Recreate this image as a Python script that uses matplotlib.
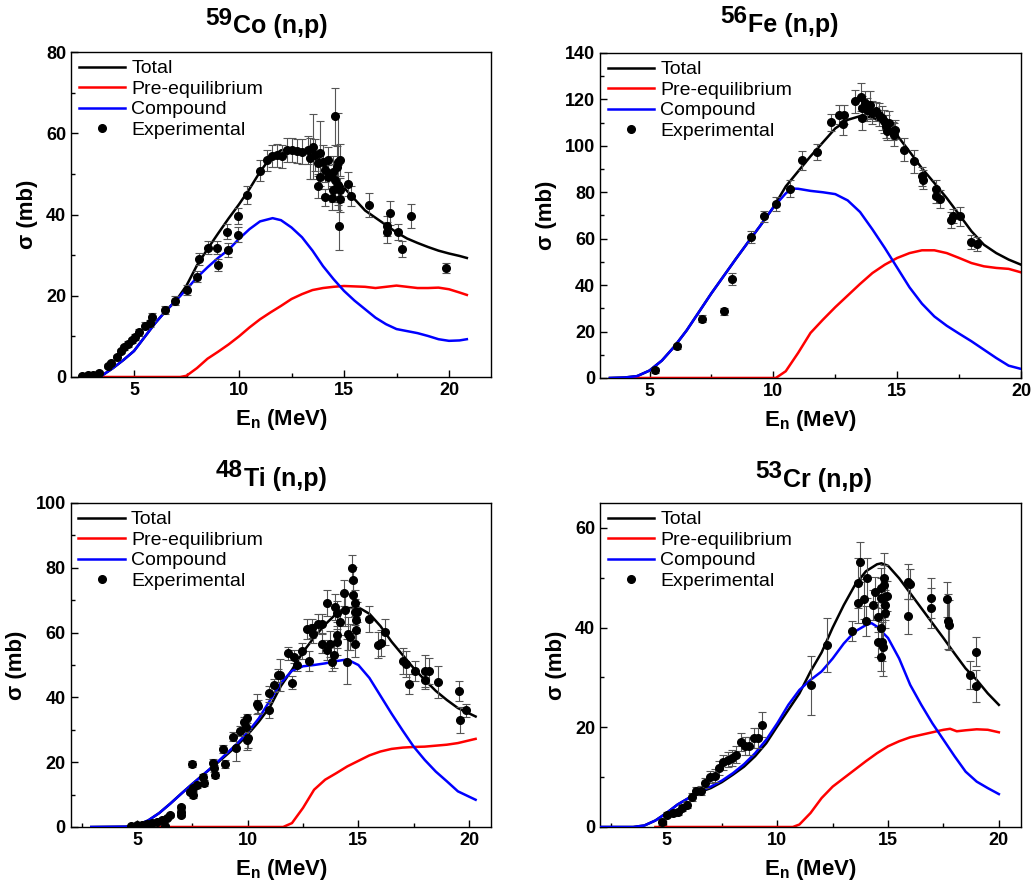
import matplotlib
matplotlib.use('Agg')
import matplotlib.pyplot as plt
from matplotlib.ticker import MultipleLocator

plt.rcParams['font.family'] = ['Liberation Sans', 'DejaVu Sans']
plt.rcParams['font.weight'] = 'bold'
plt.rcParams['axes.labelweight'] = 'bold'
plt.rcParams['axes.titleweight'] = 'bold'
plt.rcParams['mathtext.fontset'] = 'custom'
plt.rcParams['mathtext.rm'] = 'Liberation Sans:bold'
plt.rcParams['mathtext.bf'] = 'Liberation Sans:bold'

# ---------------- 59Co (n,p) ----------------
co_tot_e = [3.46, 4.0, 4.5, 5.0, 5.5, 6.0, 6.5, 7.0, 7.5, 8.0, 8.5, 9.0, 9.5, 10.0, 10.5, 11.0, 11.5, 12.0,
            12.5, 13.0, 13.5, 14.0, 14.5, 15.0, 15.5, 16.0, 16.5, 17.0, 17.5, 18.0, 18.5, 19.0, 19.5, 20.0,
            20.5, 20.85]
co_tot_s = [0.3, 2.2, 4.2, 6.4, 9.8, 13.2, 16.2, 18.8, 22.5, 27.5, 31.5, 35.3, 39.0, 42.5, 46.3, 50.5, 54.0, 55.8,
            56.0, 55.8, 55.2, 52.8, 49.5, 46.6, 43.8, 41.0, 39.2, 37.4, 35.6, 34.1, 33.0, 32.0, 31.1, 30.4,
            29.8, 29.3]
co_pre_e = [3.5, 7.2, 7.5, 8.0, 8.5, 9.0, 9.5, 10.0, 10.5, 11.0, 11.5, 12.0, 12.5, 13.0, 13.5, 14.0, 14.5, 15.0,
            16.0, 16.5, 17.0, 17.5, 18.0, 18.5, 19.0, 19.5, 20.0, 20.5, 20.85]
co_pre_s = [0, 0, 0.3, 2.2, 4.5, 6.2, 8.0, 10.0, 12.2, 14.2, 15.9, 17.5, 19.2, 20.4, 21.4, 21.9, 22.2, 22.4,
            22.2, 21.9, 22.2, 22.5, 22.2, 21.9, 21.9, 22.0, 21.6, 20.8, 20.2]
co_cmp_e = [3.46, 4.0, 4.5, 5.0, 5.5, 6.0, 6.5, 7.0, 7.5, 8.0, 8.5, 9.0, 9.5, 10.0, 10.5, 11.0, 11.6, 12.0,
            12.5, 13.0, 13.5, 14.0, 14.5, 15.0, 15.5, 16.0, 16.5, 17.0, 17.5, 18.0, 18.5, 19.0, 19.5, 20.0,
            20.5, 20.85]
co_cmp_s = [0.3, 2.2, 4.2, 6.4, 9.8, 13.2, 16.2, 18.8, 21.6, 24.5, 27.0, 29.3, 31.3, 34.0, 36.4, 38.3, 39.1, 38.6,
            36.8, 34.4, 31.1, 27.3, 24.1, 21.2, 18.8, 16.7, 14.6, 13.0, 11.8, 11.3, 10.8, 10.1, 9.3, 8.9,
            9.0, 9.3]
co_exp_e = [2.51, 2.83, 3.06, 3.33, 3.75, 3.9, 4.17, 4.38, 4.54, 4.73, 4.89, 5.05, 5.25, 5.52, 5.76, 5.87,
            6.48, 6.95, 7.51, 8.01, 8.1, 8.54, 8.94, 8.98, 9.46, 9.41, 9.94, 9.97, 10.4, 11.0, 11.32, 11.56,
            11.8, 12.03, 12.27, 12.51, 12.75, 12.99, 13.3, 13.54, 13.38, 13.62, 13.86, 13.78, 14.01, 14.25,
            14.1, 13.86, 13.78, 14.25, 14.49, 14.73, 14.81, 14.57, 14.65, 14.57, 14.73, 14.81, 14.49, 14.1,
            14.41, 14.81, 14.78, 15.2, 15.33, 16.2, 17.19, 17.03, 17.03, 17.56, 17.75, 18.19, 19.84]
co_exp_s = [0.3, 0.5, 0.6, 1.1, 2.6, 3.5, 4.8, 6.4, 7.3, 8.2, 9.0, 9.8, 11.0, 12.6, 13.2, 14.8,
            16.5, 18.8, 21.4, 24.7, 29.0, 31.8, 31.8, 27.6, 31.3, 35.8, 35.0, 39.7, 44.8, 50.8, 53.3, 54.5,
            54.6, 54.3, 55.9, 55.9, 55.7, 55.5, 55.9, 56.7, 53.8, 54.6, 55.1, 52.6, 53.0, 53.5,
            51.0, 49.3, 47.0, 49.3, 50.5, 53.0, 53.4, 64.2, 51.8, 48.5, 47.3, 46.0, 46.0, 44.2,
            44.0, 43.7, 37.2, 47.5, 44.6, 42.3, 40.3, 37.2, 35.6, 35.6, 31.5, 39.6, 26.8]
co_exp_err = [0.3, 0.3, 0.3, 0.4, 0.5, 0.5, 0.6, 0.6, 0.6, 0.7, 0.7, 0.8, 0.8, 0.9, 0.9, 1.0,
              1.0, 1.1, 1.2, 1.3, 1.5, 1.6, 1.6, 1.5, 1.7, 1.8, 1.8, 2.0, 2.2, 2.5, 2.6, 2.7,
              2.8, 2.9, 3.0, 3.0, 3.0, 3.0, 3.5, 8.0, 5.0, 4.0, 8.0, 3.0, 4.0, 3.0,
              3.0, 3.0, 3.0, 3.0, 4.0, 12.0, 4.0, 7.0, 5.0, 4.0, 5.0, 3.0, 3.0, 2.0,
              3.0, 3.0, 6.0, 3.0, 2.5, 3.0, 3.0, 2.5, 2.5, 2.0, 2.0, 3.0, 1.2]

# ---------------- 56Fe (n,p) ----------------
fe_tot_e = [3.4, 4.0, 4.5, 5.0, 5.5, 6.0, 6.5, 7.0, 7.5, 8.0, 8.5, 9.0, 9.5, 10.0, 10.5, 11.0, 11.5, 12.0,
            12.5, 13.0, 13.5, 14.0, 14.5, 15.0, 15.5, 16.0, 16.5, 17.0, 17.5, 18.0, 18.5, 19.0, 19.5, 20.0]
fe_tot_s = [0, 0.2, 0.8, 3.2, 7.5, 13.5, 20.5, 28.5, 36.5, 44.0, 51.5, 58.8, 66.0, 73.5, 82.5, 89.0, 95.5, 101.5,
            107.5, 111.2, 112.8, 112.2, 109.5, 104.5, 97.5, 90.3, 84.0, 77.5, 70.4, 63.2, 57.4, 53.8, 51.0, 48.8]
fe_pre_e = [4.3, 10.1, 10.5, 11.0, 11.5, 12.0, 12.5, 13.0, 13.5, 14.0, 14.5, 15.0, 15.5, 16.0, 16.5, 17.0,
            17.5, 18.0, 18.5, 19.0, 19.5, 20.0]
fe_pre_s = [0, 0, 2.9, 10.8, 19.4, 25.1, 30.5, 35.5, 40.5, 45.2, 48.8, 51.7, 53.8, 55.0, 55.0, 53.8,
            51.7, 49.5, 48.1, 47.4, 47.0, 45.5]
fe_cmp_e = [3.4, 4.0, 4.5, 5.0, 5.5, 6.0, 6.5, 7.0, 7.5, 8.0, 8.5, 9.0, 9.5, 10.0, 10.5, 10.75, 11.0, 11.5,
            12.0, 12.5, 13.0, 13.5, 14.0, 14.5, 15.0, 15.5, 16.0, 16.5, 17.0, 17.5, 18.0, 18.5, 19.0, 19.5, 20.0]
fe_cmp_s = [0, 0.2, 0.8, 3.2, 7.5, 13.5, 20.5, 28.5, 36.5, 44.0, 51.5, 58.8, 66.0, 73.5, 79.5, 81.6, 81.5, 80.6,
            80.0, 79.2, 76.5, 71.5, 64.0, 56.0, 47.5, 39.0, 32.0, 26.5, 22.5, 19.1, 15.8, 12.2, 8.6, 5.3, 3.9]
fe_exp_e = [5.22, 6.1, 7.1, 8.0, 8.35, 9.09, 9.62, 10.11, 10.69, 11.14, 11.77, 12.31, 12.64, 12.82, 12.85,
            13.29, 13.52, 13.56, 13.59, 13.69, 13.79, 13.92, 14.0, 14.13, 14.26, 14.37, 14.46, 14.56, 14.66,
            14.6, 14.83, 14.87, 14.91, 15.27, 15.67, 16.01, 16.04, 16.58, 16.58, 16.72, 17.18, 17.26, 17.53,
            17.99, 18.23]
fe_exp_s = [3.3, 13.6, 25.6, 28.7, 42.6, 60.6, 69.6, 75.1, 81.6, 93.8, 97.4, 110.1, 113.4, 109.6, 113.4,
            119.2, 121.1, 116.3, 112.0, 118.5, 115.6, 117.7, 114.2, 114.9, 113.4, 112.0, 110.6, 108.4, 109.9,
            106.3, 106.3, 104.8, 107.0, 98.4, 93.3, 86.9, 85.4, 81.4, 78.3, 77.1, 68.2, 69.9, 69.6,
            58.4, 57.7]
fe_exp_err = [1.0, 1.0, 1.5, 1.5, 2.5, 2.5, 2.5, 3.0, 3.5, 4.0, 3.5, 3.5, 4.0, 5.0, 4.0,
              5.0, 6.0, 5.0, 5.0, 5.0, 5.0, 6.0, 5.0, 4.0, 5.0, 5.0, 5.0, 5.0, 5.0,
              4.0, 4.0, 5.0, 4.0, 5.0, 5.0, 4.0, 4.0, 4.0, 3.0, 4.0, 3.5, 3.0, 4.0,
              3.0, 3.0]

# ---------------- 48Ti (n,p) ----------------
ti_tot_e = [2.93, 4.5, 5.0, 5.5, 6.0, 6.5, 7.0, 7.5, 8.0, 8.5, 9.0, 9.5, 10.0, 10.5, 11.0, 11.5, 12.0, 12.5,
            13.0, 13.5, 14.0, 14.5, 15.0, 15.5, 16.0, 16.5, 17.0, 17.5, 18.0, 18.5, 19.0, 19.5, 20.3]
ti_tot_s = [0, 0.1, 0.6, 2.0, 4.3, 7.2, 10.3, 13.3, 16.2, 19.0, 22.0, 25.0, 28.5, 32.5, 37.0, 43.5, 48.5, 54.0,
            58.5, 62.5, 65.8, 67.5, 67.8, 65.8, 62.0, 57.2, 53.1, 49.0, 45.4, 42.0, 39.2, 36.7, 34.1]
ti_pre_e = [6.0, 11.6, 12.0, 12.5, 13.0, 13.5, 14.0, 14.5, 15.0, 15.5, 16.0, 16.5, 17.0, 17.5, 18.0, 18.5,
            19.0, 19.5, 20.3]
ti_pre_s = [0, 0, 1.2, 5.9, 11.5, 14.6, 16.6, 18.7, 20.4, 22.1, 23.3, 24.1, 24.5, 24.7, 24.8, 25.1,
            25.4, 25.9, 27.2]
ti_cmp_e = [2.93, 4.5, 5.0, 5.5, 6.0, 6.5, 7.0, 7.5, 8.0, 8.5, 9.0, 9.5, 10.0, 10.5, 11.0, 11.5, 12.0, 12.5,
            13.0, 13.5, 14.0, 14.5, 15.0, 15.5, 16.0, 16.5, 17.0, 17.5, 18.0, 18.5, 19.0, 19.5, 20.3]
ti_cmp_s = [0, 0.1, 0.6, 2.0, 4.3, 7.2, 10.3, 13.3, 16.2, 19.2, 22.4, 25.6, 29.2, 33.5, 39.0, 44.5, 48.2, 49.6,
            50.0, 50.5, 51.2, 51.7, 50.0, 46.0, 40.5, 35.0, 29.8, 24.8, 20.7, 17.1, 14.1, 11.0, 8.4]
ti_exp_e = [4.71, 4.98, 5.21, 5.44, 5.66, 5.89, 6.12, 6.26, 6.34, 6.49, 6.99, 6.99, 6.99, 7.4, 7.52, 7.55,
            7.5, 7.73, 8.0, 8.03, 8.45, 8.48, 8.53, 8.87, 8.98, 9.35, 9.48, 9.63, 9.81, 9.96, 9.93, 9.96,
            10.0, 10.41, 10.45, 10.98, 10.98, 11.19, 11.39, 11.47, 12.0, 11.81, 12.07, 12.22, 12.45, 12.75,
            12.67, 12.9, 12.97, 13.17, 13.35, 13.35, 13.58, 13.58, 13.73, 13.8, 13.92, 13.95, 14.03, 14.03,
            14.03, 14.18, 14.33, 14.41, 14.53, 14.63, 14.5, 14.71, 14.74, 14.78, 14.86, 14.83, 14.9, 14.9,
            14.86, 14.92, 15.46, 16.21, 15.91, 16.03, 17.04, 17.17, 17.57, 18.02, 18.2, 17.99, 17.3, 18.6,
            19.53, 19.61, 19.87]
ti_exp_s = [0.4, 0.6, 0.6, 0.8, 1.1, 1.6, 2.2, 0.4, 2.7, 3.7, 6.3, 4.7, 3.7, 10.9, 9.9, 11.9,
            19.4, 13.0, 15.5, 13.5, 19.8, 18.1, 16.0, 24.0, 19.4, 27.9, 24.3, 29.7, 32.5, 33.5, 30.9, 26.8,
            27.4, 37.9, 37.3, 36.1, 41.4, 43.8, 46.9, 46.9, 44.5, 53.6, 52.5, 50.0, 54.3, 51.2,
            61.1, 61.3, 59.7, 62.8, 56.6, 62.8, 69.0, 54.6, 56.6, 51.0, 53.0, 67.9, 65.9, 59.2,
            57.1, 63.3, 72.1, 66.9, 59.7, 58.7, 51.0, 80.0, 76.2, 71.5, 69.0, 66.4, 63.8, 60.7,
            56.6, 66.4, 64.3, 60.2, 56.1, 56.8, 51.2, 50.3, 48.2, 48.2, 48.2, 45.5, 44.1, 44.8,
            42.0, 33.0, 36.1]
ti_exp_err = [0.2, 0.2, 0.2, 0.3, 0.3, 0.4, 0.4, 0.3, 0.5, 0.6, 0.6, 0.5, 0.5, 0.8, 0.8, 0.9,
              1.0, 1.0, 1.0, 1.0, 1.2, 1.0, 1.0, 1.2, 1.2, 1.5, 4.0, 1.5, 1.5, 1.5, 1.5, 3.0,
              3.0, 3.0, 2.0, 2.5, 2.0, 2.0, 2.0, 5.0, 2.0, 2.0, 2.0, 2.0, 2.5, 3.0,
              3.0, 3.0, 3.0, 3.0, 3.0, 3.0, 4.0, 3.0, 4.0, 3.0, 4.0, 4.0, 4.0, 4.0,
              4.0, 4.0, 4.0, 5.0, 5.0, 4.0, 7.0, 4.0, 4.0, 4.0, 4.0, 4.0, 4.0, 4.0,
              4.0, 3.0, 4.0, 4.0, 4.0, 4.0, 4.0, 4.0, 3.0, 5.0, 4.0, 3.0, 3.0, 5.0,
              3.0, 4.0, 2.0]

# ---------------- 53Cr (n,p) ----------------
cr_tot_e = [2.0, 3.5, 4.0, 4.5, 5.0, 5.5, 6.0, 6.5, 7.0, 7.5, 8.0, 8.5, 9.0, 9.5, 10.0, 10.5, 11.0, 11.5,
            12.0, 12.5, 13.0, 13.5, 14.0, 14.5, 14.7, 15.0, 15.5, 16.0, 16.5, 17.0, 17.5, 18.0, 18.5, 19.0,
            19.5, 20.0]
cr_tot_s = [0, 0, 0.3, 1.3, 2.8, 4.5, 5.8, 7.0, 7.8, 9.0, 10.5, 12.1, 14.2, 16.8, 20.2, 23.5, 26.8, 31.2,
            35.0, 40.0, 44.5, 48.5, 51.3, 52.7, 52.9, 52.4, 49.9, 46.9, 43.9, 40.9, 37.9, 34.8, 31.8, 29.5,
            26.8, 24.5]
cr_pre_e = [4.5, 10.7, 11.0, 11.5, 12.0, 12.5, 13.0, 13.5, 14.0, 14.5, 15.0, 15.5, 16.0, 16.5, 17.0, 17.5,
            17.8, 18.1, 18.5, 19.0, 19.5, 20.0]
cr_pre_s = [0, 0, 0.5, 2.8, 5.8, 8.1, 9.8, 11.5, 13.2, 14.8, 16.2, 17.2, 18.0, 18.5, 19.0, 19.5,
            19.7, 19.2, 19.4, 19.6, 19.5, 19.0]
cr_cmp_e = [2.0, 3.5, 4.0, 4.5, 5.0, 5.5, 6.0, 6.5, 7.0, 7.5, 8.0, 8.5, 9.0, 9.5, 10.0, 10.5, 11.0, 11.5,
            12.0, 12.5, 13.0, 13.5, 14.0, 14.25, 14.5, 15.0, 15.5, 16.0, 16.5, 17.0, 17.5, 18.0, 18.5, 19.0,
            19.5, 20.0]
cr_cmp_s = [0, 0, 0.3, 1.3, 2.8, 4.5, 5.8, 7.1, 8.1, 9.3, 10.8, 12.6, 14.8, 17.5, 20.8, 24.5, 27.5, 29.5,
            31.2, 33.8, 36.8, 39.2, 40.5, 40.9, 40.2, 37.9, 33.8, 28.5, 24.5, 20.8, 17.5, 14.2, 11.1, 9.1,
            7.8, 6.6]
cr_exp_e = [4.79, 5.03, 5.3, 5.53, 5.72, 5.92, 6.13, 6.35, 6.55, 6.76, 6.95, 7.18, 7.38, 7.56, 7.78, 7.96,
            8.16, 8.35, 8.53, 8.73, 8.94, 9.14, 9.33, 11.54, 12.25, 13.35, 13.72, 13.65, 13.65, 13.92, 14.0,
            14.05, 14.32, 14.43, 14.55, 14.55, 14.67, 14.67, 14.7, 14.7, 14.74, 14.77, 14.8, 14.82, 14.82,
            14.85, 14.85, 14.97, 15.9, 15.98, 15.9, 16.92, 16.92, 17.66, 17.71, 17.75, 18.68, 18.98, 18.98]
cr_exp_s = [1.0, 2.5, 2.8, 3.1, 3.8, 4.5, 6.0, 7.3, 7.3, 8.9, 10.1, 10.3, 11.9, 13.0, 13.5, 13.8,
            14.5, 17.0, 16.3, 16.3, 17.8, 17.8, 20.5, 28.4, 36.5, 39.4, 53.1, 49.0, 44.9, 45.8, 41.3,
            50.0, 44.5, 47.2, 42.1, 37.2, 34.2, 47.9, 45.9, 40.0, 37.2, 36.2, 50.0, 48.5, 46.2,
            44.5, 42.9, 46.4, 49.2, 48.7, 42.3, 45.9, 43.9, 45.7, 41.3, 40.5, 30.5, 35.2, 28.2]
cr_exp_err = [0.5, 0.5, 0.5, 0.6, 0.6, 0.7, 0.8, 0.8, 0.9, 1.0, 1.2, 1.3, 1.4, 1.5, 1.5, 1.6,
              1.7, 1.8, 1.8, 1.8, 2.0, 2.0, 2.5, 6.0, 5.5, 2.0, 4.0, 5.0, 4.0, 4.0, 3.0,
              4.0, 3.0, 3.0, 3.0, 3.0, 3.0, 4.0, 4.0, 3.0, 4.0, 6.0, 5.0, 4.0, 4.0,
              3.0, 3.0, 3.0, 3.5, 3.0, 3.5, 4.0, 4.0, 3.5, 5.5, 5.0, 2.8, 3.0, 3.2]


def draw_panel(ax, mass, element, tot, pre, cmp_, exp, xlim, ylim, ymajor, title_pos):
    l_tot, = ax.plot(tot[0], tot[1], color='black', lw=1.8, label='Total', zorder=2)
    l_pre, = ax.plot(pre[0], pre[1], color='red', lw=1.8, label='Pre-equilibrium', zorder=2)
    l_cmp, = ax.plot(cmp_[0], cmp_[1], color='blue', lw=1.8, label='Compound', zorder=3)
    ax.errorbar(exp[0], exp[1], yerr=exp[2], fmt='none', ecolor='#555555',
                elinewidth=0.8, capsize=3, capthick=0.8, zorder=4)
    pts, = ax.plot(exp[0], exp[1], 'o', color='black', ms=5.5, label='Experimental', zorder=5)

    ax.set_xlim(*xlim)
    ax.set_ylim(*ylim)
    ax.xaxis.set_major_locator(MultipleLocator(5))
    ax.xaxis.set_minor_locator(MultipleLocator(2.5))
    ax.yaxis.set_major_locator(MultipleLocator(ymajor))
    ax.yaxis.set_minor_locator(MultipleLocator(ymajor / 2))
    ax.tick_params(which='both', direction='in', top=False, right=False, labelsize=13, width=1)
    ax.tick_params(which='major', length=5)
    ax.tick_params(which='minor', length=3)
    for sp in ax.spines.values():
        sp.set_linewidth(1.0)

    # title: mass number large, element + reaction lowered
    jx, up1, up2 = title_pos
    ax.annotate(mass, xy=(jx, 1), xycoords='axes fraction', xytext=(0, up1),
                textcoords='offset pixels', ha='right', va='baseline', fontsize=17.5)
    ax.annotate(element + ' (n,p)', xy=(jx, 1), xycoords='axes fraction', xytext=(1, up2),
                textcoords='offset pixels', ha='left', va='baseline', fontsize=18)

    ax.set_xlabel(r'E$_{\mathbf{n}}$ (MeV)', fontsize=16, labelpad=6)
    ax.set_ylabel('σ (mb)', fontsize=16, labelpad=6)

    ax.legend(handles=[l_tot, l_pre, l_cmp, pts], loc='upper left', frameon=False,
              prop={'size': 14, 'weight': 'normal'}, handlelength=2.4, handletextpad=0.3,
              labelspacing=0.15, borderaxespad=0.1, borderpad=0.3)


fig = plt.figure(figsize=(10.35, 8.86), dpi=100)
ax1 = fig.add_axes([0.0686, 0.5745, 0.4058, 0.3668])
ax2 = fig.add_axes([0.5797, 0.5734, 0.4068, 0.3668])
ax3 = fig.add_axes([0.0683, 0.0666, 0.4062, 0.3657])
ax4 = fig.add_axes([0.5797, 0.0666, 0.4068, 0.3657])

draw_panel(ax1, '59', 'Co', (co_tot_e, co_tot_s), (co_pre_e, co_pre_s), (co_cmp_e, co_cmp_s),
           (co_exp_e, co_exp_s, co_exp_err), (2, 22), (0, 80), 20, (0.383, 27, 19))
draw_panel(ax2, '56', 'Fe', (fe_tot_e, fe_tot_s), (fe_pre_e, fe_pre_s), (fe_cmp_e, fe_cmp_s),
           (fe_exp_e, fe_exp_s, fe_exp_err), (3, 20), (0, 140), 20, (0.349, 30, 21))
draw_panel(ax3, '48', 'Ti', (ti_tot_e, ti_tot_s), (ti_pre_e, ti_pre_s), (ti_cmp_e, ti_cmp_s),
           (ti_exp_e, ti_exp_s, ti_exp_err), (2, 21), (0, 100), 20, (0.410, 26, 17))
draw_panel(ax4, '53', 'Cr', (cr_tot_e, cr_tot_s), (cr_pre_e, cr_pre_s), (cr_cmp_e, cr_cmp_s),
           (cr_exp_e, cr_exp_s, cr_exp_err), (2, 21), (0, 65), 20, (0.432, 25, 16))

fig.savefig('out.png', dpi=100)
